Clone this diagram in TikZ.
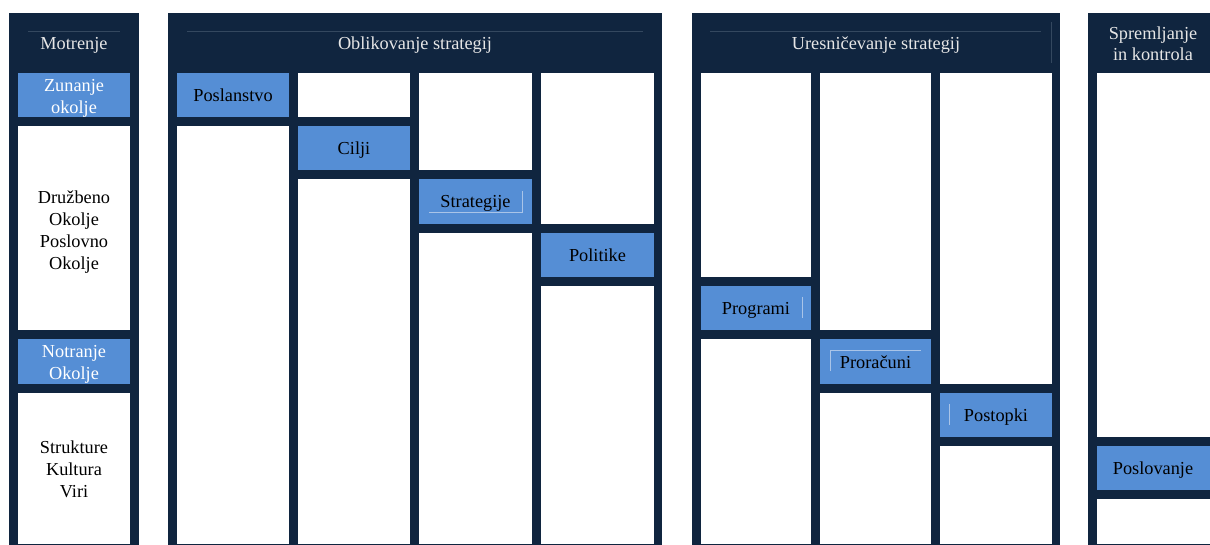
\documentclass[tikz,border=0pt]{standalone}
\usepackage{fontspec}
\setmainfont{Liberation Serif}
\definecolor{navy}{HTML}{10253F}
\definecolor{blueb}{HTML}{558ED5}
\definecolor{hdr}{HTML}{E6E6E6}
\definecolor{faint}{HTML}{34485F}
\definecolor{edge}{HTML}{A9C4E8}
\newcommand\fsz{\fontsize{18.3}{21.8}\selectfont}
\tikzset{
  panel/.style={fill=navy, draw=none, inner sep=0pt, outer sep=0pt},
  wcell/.style={fill=white, draw=none, inner sep=0pt, outer sep=0pt, align=center, text=black, font=\fsz},
  bcell/.style={fill=blueb, draw=none, inner sep=0pt, outer sep=0pt, align=center, text=black, font=\fsz},
  bone/.style={bcell, text height=17pt, text depth=4pt},
  txt/.style={inner sep=0pt, align=center, text=black, font=\fsz},
  txtw/.style={txt, text=white},
  hdrtext/.style={text=hdr, font=\fsz, align=center, inner sep=0pt},
  hrule/.style={draw=faint, line width=0.8pt},
  tbedge/.style={draw=edge, line width=0.6pt}
}
\newcommand\cbox[7]{\node[#6, anchor=north west, minimum width={(#4-#2)*1pt}, minimum height={(#5-#3)*1pt}] (#1) at (#2,#3) {#7};}
\begin{document}
\begin{tikzpicture}[x=1pt,y=-1pt]
\useasboundingbox[fill=white] (0,0) rectangle (1210,545);
% panels
\cbox{p1}{9}{13}{139}{545}{panel}{}
\cbox{p2}{168}{13}{662}{545}{panel}{}
\cbox{p3}{692}{13}{1060}{545}{panel}{}
\cbox{p4}{1088}{13}{1216}{545}{panel}{}
% header rules
\draw[hrule] (28,31) -- (120,31);
\draw[hrule] (187,31) -- (643,31);
\draw[hrule] (710,31) -- (1041,31);
\draw[hrule] (1051,22) -- (1051,63);
% headers
\node[hdrtext, anchor=base] (h1) at (74,49.5) {Motrenje};
\node[hdrtext, anchor=base] (h2) at (415,49.5) {Oblikovanje strategij};
\node[hdrtext, anchor=base] (h3) at (876,49.5) {Uresničevanje strategij};
\node[hdrtext, anchor=base] (h4a) at (1153,39.5) {Spremljanje};
\node[hdrtext, anchor=base] (h4b) at (1153,61) {in kontrola};
% panel 1
\cbox{zun}{18}{73}{130}{117}{bcell}{}
\node[txtw] (zunT) at ([yshift=-3pt]zun.center) {Zunanje\\okolje};
\cbox{druz}{18}{126}{130}{330}{wcell}{}
\node[txt] (druzT) at ([yshift=-4pt]druz.center) {Družbeno\\Okolje\\Poslovno\\Okolje};
\cbox{notr}{18}{339}{130}{384}{bcell}{}
\node[txtw] (notrT) at ([yshift=-3pt]notr.center) {Notranje\\Okolje};
\cbox{stru}{18}{393}{130}{544}{wcell}{}
\node[txt] (struT) at ([yshift=-1pt]stru.center) {Strukture\\Kultura\\Viri};
% panel 2
\cbox{posl}{177}{73}{289}{117}{bone}{Poslanstvo}
\cbox{a2}{177}{126}{289}{544}{wcell}{}
\cbox{b1}{298}{73}{410}{117}{wcell}{}
\cbox{cilji}{298}{126}{410}{170}{bone}{Cilji}
\cbox{b2}{298}{179}{410}{544}{wcell}{}
\cbox{c1}{419}{73}{532}{170}{wcell}{}
\cbox{strat}{419}{179}{532}{224}{bone}{Strategije}
\cbox{c2}{419}{233}{532}{544}{wcell}{}
\cbox{d1}{541}{73}{654}{224}{wcell}{}
\cbox{polit}{541}{233}{654}{277}{bone}{Politike}
\cbox{d2}{541}{286}{654}{544}{wcell}{}
% panel 3
\cbox{e1}{701}{73}{811}{277}{wcell}{}
\cbox{prog}{701}{286}{811}{330}{bone}{Programi}
\cbox{e2}{701}{339}{811}{544}{wcell}{}
\cbox{f1}{820}{73}{931}{330}{wcell}{}
\cbox{pror}{820}{339}{931}{384}{bone}{Proračuni}
\cbox{f2}{820}{393}{931}{544}{wcell}{}
\cbox{g1}{940}{73}{1052}{384}{wcell}{}
\cbox{post}{940}{393}{1052}{437}{bone}{Postopki}
\cbox{g2}{940}{446}{1052}{544}{wcell}{}
% panel 4
\cbox{k1}{1097}{73}{1216}{437}{wcell}{}
\cbox{poslo}{1097}{446}{1216}{490}{bone}{\hspace*{-7pt}Poslovanje}
\cbox{k2}{1097}{499}{1216}{544}{wcell}{}
% faint text box edges
\draw[tbedge] (429,212) -- (522,212) -- (522,191);
\draw[tbedge] (802,297) -- (802,318);
\draw[tbedge] (830,371) -- (830,350) -- (921,350);
\draw[tbedge] (949,404) -- (949,425);
\end{tikzpicture}
\end{document}
